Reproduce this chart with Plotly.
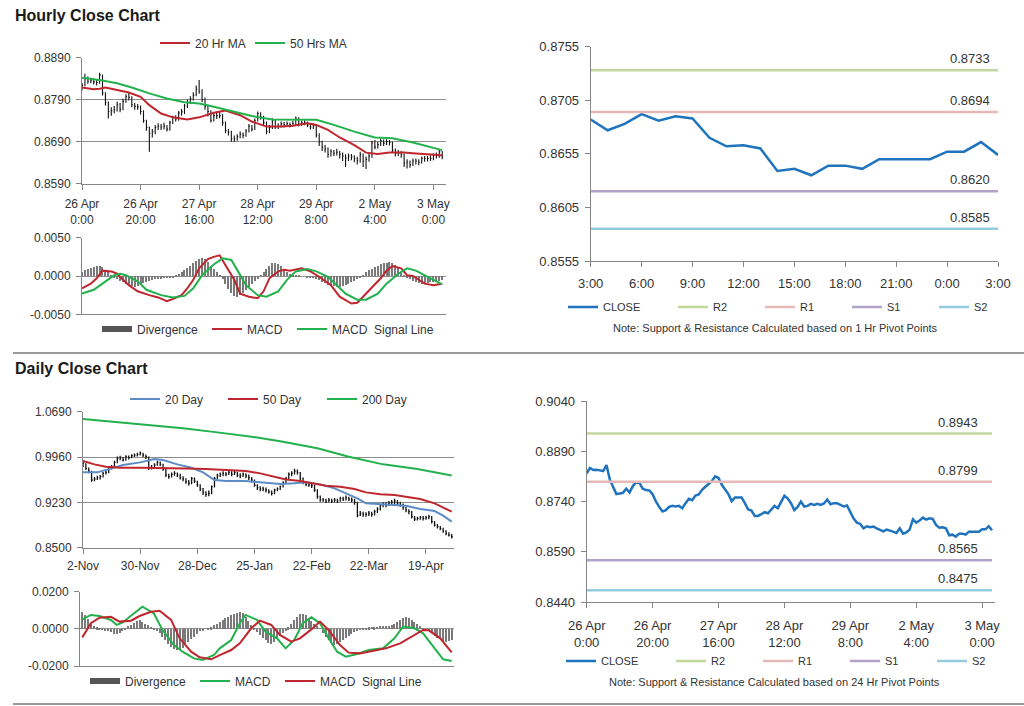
import plotly.graph_objects as go

# ------------------------------------------------------------------ data
hourly_tick_pos = [0, 20, 40, 60, 80, 100, 120]
hourly_tick_text = ["26 Apr<br>0:00", "26 Apr<br>20:00", "27 Apr<br>16:00", "28 Apr<br>12:00",
                    "29 Apr<br>8:00", "2 May<br>4:00", "3 May<br>0:00"]

hourly_close = [
    0.8824, 0.8840, 0.8834, 0.8835, 0.8833, 0.8831, 0.8849, 0.8806, 0.8784, 0.8762,
    0.8764, 0.8766, 0.8778, 0.8767, 0.8786, 0.8797, 0.8796, 0.8778, 0.8774, 0.8773,
    0.8762, 0.8740, 0.8724, 0.8710, 0.8714, 0.8724, 0.8727, 0.8725, 0.8727, 0.8720,
    0.8735, 0.8748, 0.8744, 0.8758, 0.8761, 0.8775, 0.8784, 0.8792, 0.8801, 0.8815,
    0.8810, 0.8790, 0.8774, 0.8762, 0.8741, 0.8752, 0.8752, 0.8752, 0.8735, 0.8716,
    0.8713, 0.8697, 0.8697, 0.8702, 0.8708, 0.8705, 0.8715, 0.8727, 0.8720, 0.8740,
    0.8757, 0.8749, 0.8735, 0.8714, 0.8724, 0.8740, 0.8725, 0.8727, 0.8733, 0.8730,
    0.8733, 0.8730, 0.8734, 0.8746, 0.8732, 0.8735, 0.8735, 0.8730, 0.8725, 0.8728,
    0.8706, 0.8689, 0.8677, 0.8673, 0.8660, 0.8666, 0.8663, 0.8665, 0.8660, 0.8656,
    0.8651, 0.8656, 0.8654, 0.8650, 0.8646, 0.8660, 0.8644, 0.8648, 0.8656, 0.8687,
    0.8677, 0.8683, 0.8692, 0.8686, 0.8690, 0.8688, 0.8670, 0.8662, 0.8663, 0.8660,
    0.8639, 0.8641, 0.8635, 0.8644, 0.8644, 0.8641, 0.8650, 0.8650, 0.8650, 0.8650,
    0.8657, 0.8657, 0.8666, 0.8654]
hourly_high = [
    0.8830, 0.8852, 0.8845, 0.8842, 0.8840, 0.8838, 0.8854, 0.8850, 0.8808, 0.8786,
    0.8772, 0.8775, 0.8785, 0.8782, 0.8792, 0.8803, 0.8806, 0.8798, 0.8782, 0.8780,
    0.8776, 0.8765, 0.8742, 0.8726, 0.8720, 0.8730, 0.8734, 0.8732, 0.8735, 0.8730,
    0.8740, 0.8752, 0.8753, 0.8763, 0.8768, 0.8780, 0.8790, 0.8798, 0.8808, 0.8824,
    0.8837, 0.8815, 0.8795, 0.8778, 0.8765, 0.8758, 0.8760, 0.8762, 0.8756, 0.8738,
    0.8720, 0.8716, 0.8705, 0.8708, 0.8714, 0.8712, 0.8720, 0.8732, 0.8730, 0.8745,
    0.8762, 0.8760, 0.8752, 0.8738, 0.8730, 0.8746, 0.8742, 0.8734, 0.8738, 0.8737,
    0.8738, 0.8736, 0.8740, 0.8750, 0.8748, 0.8740, 0.8741, 0.8738, 0.8733, 0.8734,
    0.8730, 0.8710, 0.8692, 0.8682, 0.8676, 0.8672, 0.8670, 0.8673, 0.8668, 0.8664,
    0.8660, 0.8662, 0.8661, 0.8658, 0.8654, 0.8666, 0.8662, 0.8655, 0.8662, 0.8692,
    0.8694, 0.8690, 0.8697, 0.8695, 0.8696, 0.8694, 0.8690, 0.8674, 0.8670, 0.8668,
    0.8662, 0.8648, 0.8645, 0.8650, 0.8650, 0.8648, 0.8655, 0.8656, 0.8656, 0.8657,
    0.8662, 0.8664, 0.8670, 0.8668]
hourly_low = [
    0.8812, 0.8822, 0.8828, 0.8829, 0.8826, 0.8824, 0.8828, 0.8800, 0.8776, 0.8745,
    0.8752, 0.8758, 0.8762, 0.8760, 0.8765, 0.8783, 0.8788, 0.8772, 0.8766, 0.8766,
    0.8755, 0.8735, 0.8716, 0.8666, 0.8700, 0.8708, 0.8718, 0.8718, 0.8719, 0.8714,
    0.8716, 0.8732, 0.8738, 0.8740, 0.8752, 0.8756, 0.8770, 0.8780, 0.8788, 0.8798,
    0.8804, 0.8784, 0.8766, 0.8750, 0.8736, 0.8738, 0.8744, 0.8746, 0.8728, 0.8710,
    0.8705, 0.8690, 0.8690, 0.8692, 0.8698, 0.8698, 0.8702, 0.8712, 0.8714, 0.8718,
    0.8738, 0.8742, 0.8728, 0.8708, 0.8710, 0.8720, 0.8720, 0.8720, 0.8724, 0.8724,
    0.8725, 0.8724, 0.8726, 0.8730, 0.8726, 0.8728, 0.8729, 0.8725, 0.8719, 0.8720,
    0.8700, 0.8680, 0.8668, 0.8664, 0.8652, 0.8655, 0.8656, 0.8657, 0.8650, 0.8644,
    0.8630, 0.8644, 0.8646, 0.8641, 0.8636, 0.8640, 0.8630, 0.8625, 0.8642, 0.8652,
    0.8672, 0.8674, 0.8680, 0.8680, 0.8682, 0.8681, 0.8664, 0.8655, 0.8656, 0.8652,
    0.8630, 0.8626, 0.8628, 0.8632, 0.8636, 0.8634, 0.8638, 0.8642, 0.8643, 0.8644,
    0.8646, 0.8650, 0.8652, 0.8648]

ma20_hr_x = [0, 4, 6, 8, 12, 16, 20, 23, 27, 31, 36, 40, 45, 49, 54, 58, 63, 68, 72, 77,
             80, 84, 88, 93, 97, 101, 105, 110, 114, 120, 123]
ma20_hr = [0.8819, 0.8815, 0.8816, 0.8819, 0.8813, 0.8807, 0.8797, 0.8777, 0.8757, 0.8748,
           0.8743, 0.8748, 0.8759, 0.8764, 0.8753, 0.8738, 0.8726, 0.8726, 0.8728, 0.8734,
           0.8730, 0.8718, 0.8700, 0.8682, 0.8664, 0.8661, 0.8664, 0.8664, 0.8662, 0.8660, 0.8658]
ma50_hr_x = [0, 6, 12, 17, 23, 29, 35, 40, 45, 52, 58, 65, 72, 80, 86, 93, 100, 106, 113, 120, 123]
ma50_hr = [0.8842, 0.8837, 0.8829, 0.8819, 0.8805, 0.8793, 0.8784, 0.8781, 0.8773, 0.8761,
           0.8751, 0.8743, 0.8742, 0.8742, 0.8730, 0.8714, 0.8700, 0.8698, 0.8688, 0.8676, 0.8670]

hourly_div = [
    0.0006, 0.0008, 0.0010, 0.0011, 0.0012, 0.0013, 0.0014, 0.0012,
    0.0008, 0.0005, 0.0002, -0.0001,
    -0.0004, -0.0006, -0.0008, -0.0010, -0.0012, -0.0013, -0.0014, -0.0013, -0.0011, -0.0009,
    -0.0008, -0.0006, -0.0005, -0.0004,
    -0.0003, -0.0003, -0.0002, -0.0002, -0.0001, -0.0001, 0.0001,
    0.0003, 0.0005, 0.0008, 0.0011, 0.0014, 0.0017, 0.0020, 0.0022, 0.0024, 0.0023, 0.0019,
    0.0014, 0.0010, 0.0006, 0.0002,
    -0.0004, -0.0010, -0.0016, -0.0022, -0.0026, -0.0027, -0.0025, -0.0022, -0.0018, -0.0014,
    -0.0010, -0.0006,
    -0.0003, 0.0001,
    0.0005, 0.0010, 0.0014, 0.0017, 0.0018, 0.0016, 0.0013, 0.0009, 0.0005,
    0.0003, 0.0002, 0.0001, 0.0001, 0.0000, 0.0000, -0.0001, -0.0001, -0.0002, -0.0003,
    -0.0005, -0.0007, -0.0009, -0.0011, -0.0012, -0.0013, -0.0014, -0.0014, -0.0013, -0.0012,
    -0.0010, -0.0008, -0.0006, -0.0004,
    -0.0001, 0.0002, 0.0005, 0.0008, 0.0010, 0.0012, 0.0014, 0.0016, 0.0017, 0.0018,
    0.0019, 0.0018, 0.0015, 0.0011, 0.0006,
    0.0002, -0.0002, -0.0004, -0.0006, -0.0008, -0.0009, -0.0010, -0.0010, -0.0009, -0.0008,
    -0.0007, -0.0006, -0.0006, -0.0005]
hourly_macd_x = [0, 3, 5, 7, 10, 12, 14, 16, 19, 21, 23, 26, 29, 31, 34, 36, 38, 40, 43, 45,
                 47, 49, 52, 54, 57, 60, 62, 64, 67, 69, 71, 75, 78, 81, 85, 88, 92, 94, 96, 98,
                 102, 104, 106, 109, 111, 113, 117, 120, 123]
hourly_macd = [-0.0016, -0.0010, -0.0003, 0.0007, 0.0006, 0.0003, -0.0005, -0.0012, -0.0020, -0.0023,
               -0.0025, -0.0028, -0.0033, -0.0030, -0.0025, -0.0016, -0.0005, 0.0010, 0.0022, 0.0025,
               0.0027, 0.0014, -0.0005, -0.0023, -0.0027, -0.0029, -0.0020, -0.0003, 0.0006, 0.0008,
               0.0007, 0.0010, 0.0006, -0.0001, -0.0012, -0.0027, -0.0036, -0.0035, -0.0027, -0.0018,
               -0.0003, 0.0007, 0.0013, 0.0010, 0.0001, 0.0000, -0.0010, -0.0012, -0.0010]
hourly_signal_x = [0, 4, 7, 11, 13, 15, 19, 22, 27, 31, 35, 38, 41, 45, 48, 51, 53, 56, 60, 63,
                   67, 70, 73, 77, 80, 84, 87, 90, 94, 97, 101, 104, 108, 111, 114, 118, 121, 123]
hourly_signal = [-0.0023, -0.0018, -0.0010, 0.0001, 0.0003, 0.0001, -0.0007, -0.0018, -0.0025, -0.0028,
                 -0.0026, -0.0016, 0.0001, 0.0015, 0.0023, 0.0021, 0.0008, -0.0012, -0.0025, -0.0027,
                 -0.0020, -0.0005, 0.0006, 0.0009, 0.0006, -0.0001, -0.0012, -0.0023, -0.0031, -0.0031,
                 -0.0023, -0.0010, 0.0003, 0.0010, 0.0007, -0.0001, -0.0007, -0.0011]

pivot_hours = ["3:00", "6:00", "9:00", "12:00", "15:00", "18:00", "21:00", "0:00", "3:00"]
pivot_close = hourly_close[99:]          # last 24 hours of the hourly series
hr_levels = {"R2": 0.8733, "R1": 0.8694, "S1": 0.8620, "S2": 0.8585}
day_levels = {"R2": 0.8943, "R1": 0.8799, "S1": 0.8565, "S2": 0.8475}

daily_tick_pos = [0, 20, 40, 60, 80, 100, 120]
daily_tick_text = ["2-Nov", "30-Nov", "28-Dec", "25-Jan", "22-Feb", "22-Mar", "19-Apr"]
daily_close = [
    0.9858, 0.9777, 0.9735, 0.9590, 0.9606, 0.9627, 0.9643, 0.9697, 0.9713, 0.9777,
    0.9804, 0.9874, 0.9939, 0.9949, 0.9912, 0.9965, 0.9949, 0.9981, 0.9992, 1.0003,
    1.0019, 0.9992, 0.9965, 0.9777, 0.9788, 0.9831, 0.9874, 0.9842, 0.9767, 0.9670,
    0.9643, 0.9681, 0.9697, 0.9670, 0.9627, 0.9606, 0.9563, 0.9536, 0.9616, 0.9573,
    0.9509, 0.9445, 0.9391, 0.9359, 0.9375, 0.9482, 0.9616, 0.9659, 0.9681, 0.9697,
    0.9681, 0.9713, 0.9681, 0.9713, 0.9670, 0.9659, 0.9681, 0.9659, 0.9627, 0.9590,
    0.9509, 0.9466, 0.9445, 0.9445, 0.9429, 0.9402, 0.9375, 0.9429, 0.9445, 0.9482,
    0.9552, 0.9616, 0.9681, 0.9697, 0.9735, 0.9713, 0.9616, 0.9552, 0.9520, 0.9509,
    0.9498, 0.9429, 0.9321, 0.9268, 0.9268, 0.9251, 0.9268, 0.9251, 0.9268, 0.9251,
    0.9294, 0.9283, 0.9305, 0.9283, 0.9268, 0.9230, 0.9026, 0.9053, 0.9037, 0.9037,
    0.9053, 0.9037, 0.9080, 0.9123, 0.9176, 0.9198, 0.9187, 0.9214, 0.9230, 0.9251,
    0.9214, 0.9198, 0.9144, 0.9107, 0.9080, 0.8999, 0.8962, 0.8972, 0.8983, 0.8972,
    0.8983, 0.8999, 0.8919, 0.8865, 0.8838, 0.8811, 0.8768, 0.8731, 0.8704, 0.8677]
daily_high = [
    0.9900, 0.9860, 0.9790, 0.9740, 0.9640, 0.9660, 0.9670, 0.9720, 0.9740, 0.9800,
    0.9830, 0.9900, 0.9970, 0.9980, 0.9960, 0.9990, 0.9985, 1.0005, 1.0015, 1.0030,
    1.0050, 1.0030, 1.0000, 0.9970, 0.9830, 0.9860, 0.9900, 0.9890, 0.9850, 0.9780,
    0.9690, 0.9710, 0.9730, 0.9710, 0.9690, 0.9650, 0.9620, 0.9590, 0.9640, 0.9630,
    0.9580, 0.9520, 0.9460, 0.9410, 0.9420, 0.9500, 0.9640, 0.9690, 0.9710, 0.9730,
    0.9720, 0.9750, 0.9730, 0.9740, 0.9720, 0.9700, 0.9710, 0.9700, 0.9680, 0.9640,
    0.9600, 0.9520, 0.9490, 0.9480, 0.9470, 0.9440, 0.9420, 0.9450, 0.9470, 0.9500,
    0.9570, 0.9640, 0.9710, 0.9730, 0.9770, 0.9760, 0.9720, 0.9630, 0.9570, 0.9550,
    0.9540, 0.9510, 0.9440, 0.9340, 0.9300, 0.9290, 0.9300, 0.9290, 0.9300, 0.9290,
    0.9320, 0.9320, 0.9340, 0.9320, 0.9310, 0.9290, 0.9240, 0.9090, 0.9080, 0.9070,
    0.9090, 0.9080, 0.9110, 0.9150, 0.9200, 0.9230, 0.9230, 0.9250, 0.9270, 0.9290,
    0.9270, 0.9240, 0.9210, 0.9160, 0.9120, 0.9090, 0.9010, 0.9000, 0.9010, 0.9010,
    0.9010, 0.9030, 0.9010, 0.8930, 0.8880, 0.8850, 0.8820, 0.8780, 0.8750, 0.8720]
daily_low = [
    0.9800, 0.9750, 0.9700, 0.9560, 0.9570, 0.9590, 0.9600, 0.9630, 0.9680, 0.9700,
    0.9760, 0.9790, 0.9860, 0.9910, 0.9890, 0.9900, 0.9920, 0.9940, 0.9960, 0.9970,
    0.9985, 0.9960, 0.9930, 0.9750, 0.9760, 0.9780, 0.9820, 0.9810, 0.9740, 0.9640,
    0.9610, 0.9630, 0.9660, 0.9640, 0.9600, 0.9570, 0.9530, 0.9500, 0.9520, 0.9540,
    0.9480, 0.9410, 0.9350, 0.9320, 0.9330, 0.9360, 0.9470, 0.9600, 0.9640, 0.9650,
    0.9650, 0.9670, 0.9650, 0.9670, 0.9640, 0.9620, 0.9640, 0.9620, 0.9590, 0.9550,
    0.9480, 0.9430, 0.9410, 0.9410, 0.9390, 0.9370, 0.9340, 0.9360, 0.9410, 0.9430,
    0.9470, 0.9540, 0.9600, 0.9650, 0.9680, 0.9680, 0.9590, 0.9520, 0.9490, 0.9480,
    0.9460, 0.9400, 0.9290, 0.9240, 0.9240, 0.9220, 0.9230, 0.9220, 0.9230, 0.9220,
    0.9240, 0.9250, 0.9260, 0.9250, 0.9230, 0.9190, 0.8990, 0.9010, 0.9000, 0.9000,
    0.9010, 0.9000, 0.9020, 0.9060, 0.9100, 0.9150, 0.9150, 0.9170, 0.9190, 0.9200,
    0.9180, 0.9160, 0.9110, 0.9070, 0.9040, 0.8970, 0.8930, 0.8940, 0.8950, 0.8940,
    0.8950, 0.8960, 0.8890, 0.8840, 0.8810, 0.8780, 0.8740, 0.8700, 0.8680, 0.8650]

ma20_day_x = [0, 5, 10, 14, 20, 25, 28, 33, 38, 42, 46, 50, 57, 64, 69, 74, 78, 83, 88, 92,
              96, 99, 104, 109, 113, 118, 123, 126, 129]
ma20_day = [0.9713, 0.9713, 0.9777, 0.9831, 0.9874, 0.9928, 0.9912, 0.9842, 0.9788, 0.9713,
            0.9590, 0.9574, 0.9574, 0.9552, 0.9525, 0.9536, 0.9552, 0.9520, 0.9455, 0.9375,
            0.9294, 0.9214, 0.9198, 0.9187, 0.9176, 0.9123, 0.9090, 0.9015, 0.8920]
ma50_day_x = [0, 4, 8, 13, 20, 29, 36, 43, 50, 57, 62, 67, 71, 76, 81, 85, 90, 95, 99, 104,
              109, 113, 118, 123, 126, 129]
ma50_day = [0.9896, 0.9842, 0.9804, 0.9788, 0.9788, 0.9788, 0.9777, 0.9767, 0.9751, 0.9735,
            0.9697, 0.9643, 0.9600, 0.9574, 0.9536, 0.9498, 0.9482, 0.9445, 0.9391, 0.9359,
            0.9348, 0.9321, 0.9284, 0.9214, 0.9144, 0.9080]
ma200_day_x = [0, 12, 24, 35, 47, 59, 70, 82, 93, 105, 117, 129]
ma200_day = [1.0572, 1.0518, 1.0475, 1.0422, 1.0357, 1.0287, 1.0207, 1.0100, 0.9965, 0.9842,
             0.9767, 0.9662]

daily_div = [
    0.0090, 0.0075, 0.0055, 0.0030,
    0.0015, 0.0010, 0.0005, 0.0002, -0.0005,
    -0.0012, -0.0018, -0.0025, -0.0028, -0.0022, -0.0010,
    0.0005, 0.0015, 0.0025, 0.0035, 0.0042, 0.0048,
    0.0040, 0.0030, 0.0020, 0.0012, 0.0005, -0.0005,
    -0.0020, -0.0040, -0.0060, -0.0080, -0.0095, -0.0105, -0.0114, -0.0110, -0.0100,
    -0.0085, -0.0070, -0.0055, -0.0040, -0.0025, -0.0012,
    -0.0005, 0.0000, 0.0005, 0.0010, 0.0020,
    0.0030, 0.0040, 0.0050, 0.0060, 0.0068, 0.0075, 0.0082, 0.0088, 0.0092, 0.0085,
    0.0065, 0.0045, 0.0025, 0.0005,
    -0.0015, -0.0030, -0.0045, -0.0060, -0.0072, -0.0078, -0.0070, -0.0055, -0.0035,
    -0.0020, -0.0005, 0.0010,
    0.0030, 0.0050, 0.0068, 0.0080, 0.0083, 0.0075, 0.0060,
    0.0045, 0.0030, 0.0015, 0.0000,
    -0.0020, -0.0040, -0.0060, -0.0075, -0.0087, -0.0082, -0.0070, -0.0058, -0.0045,
    -0.0035, -0.0025, -0.0015, -0.0008, -0.0002,
    0.0005, 0.0008, 0.0010, 0.0012, 0.0010, 0.0012, 0.0015, 0.0018, 0.0015, 0.0018, 0.0022,
    0.0030, 0.0040, 0.0050, 0.0058, 0.0065, 0.0060, 0.0050, 0.0038,
    0.0028, 0.0018, 0.0008, 0.0000,
    -0.0010, -0.0022, -0.0035, -0.0045, -0.0055, -0.0062, -0.0068, -0.0065, -0.0060]
daily_macd_x = [0, 3, 6, 10, 12, 14, 18, 21, 25, 28, 32, 35, 39, 42, 46, 48, 52, 55, 57, 61,
                64, 68, 71, 74, 77, 80, 83, 86, 89, 92, 96, 100, 105, 109, 112, 116, 119, 123, 126, 129]
daily_macd = [0.0051, 0.0075, 0.0069, 0.0048, 0.0021, 0.0033, 0.0083, 0.0119, 0.0083, -0.0006,
              -0.0087, -0.0123, -0.0159, -0.0168, -0.0141, -0.0105, -0.0060, 0.0030, 0.0075, 0.0048,
              -0.0015, -0.0051, -0.0105, -0.0060, 0.0030, 0.0062, 0.0030, -0.0051, -0.0123, -0.0150,
              -0.0135, -0.0114, -0.0105, -0.0051, 0.0012, 0.0003, -0.0024, -0.0105, -0.0164, -0.0173]
daily_signal_x = [0, 3, 6, 10, 13, 17, 20, 24, 27, 31, 34, 38, 41, 45, 48, 52, 55, 59, 62, 66,
                  69, 73, 76, 80, 83, 86, 90, 93, 97, 102, 106, 111, 116, 119, 121, 125, 129]
daily_signal = [-0.0046, 0.0030, 0.0060, 0.0065, 0.0039, 0.0044, 0.0069, 0.0092, 0.0097, 0.0048,
                -0.0051, -0.0123, -0.0153, -0.0164, -0.0141, -0.0114, -0.0078, 0.0003, 0.0044, 0.0021,
                -0.0033, -0.0069, -0.0051, -0.0003, 0.0039, -0.0006, -0.0087, -0.0128, -0.0132, -0.0118,
                -0.0105, -0.0078, -0.0033, -0.0006, -0.0008, -0.0051, -0.0127]

# ------------------------------------------------------------------ style
FONT = "Liberation Sans, Arial, Helvetica, sans-serif"
W, H = 1024, 706
AXC = "#868686"
GRID = "#8f8f8f"
TXT = "#333333"
RED = "#c0262d"
GREEN = "#22b14c"
BLUE20 = "#5b8cc6"
CLOSE_C = "#1f74bd"
LEVEL_C = {"R2": "#c3d69b", "R1": "#e6b9b8", "S1": "#b3a2c7", "S2": "#93cddd"}
LEVEL_W = {"R2": 42, "R1": 42, "S1": 42, "S2": 30}


def dx(a, b):
    return [a / W, b / W]


def dy(top, bottom):
    return [1 - bottom / H, 1 - top / H]


def hlc(lo, hi, cl, tick):
    xs, ys = [], []
    for i, (l, h, c) in enumerate(zip(lo, hi, cl)):
        xs += [i, i, None, i, i + tick, None]
        ys += [l, h, None, c, c, None]
    return xs, ys


fig = go.Figure()

# ---- hourly price (top-left)
xs, ys = hlc(hourly_low, hourly_high, hourly_close, 0.35)
fig.add_trace(go.Scatter(x=xs, y=ys, mode="lines", line=dict(color="#111111", width=1.1),
                         showlegend=False, hoverinfo="skip", xaxis="x", yaxis="y"))
fig.add_trace(go.Scatter(x=ma20_hr_x, y=ma20_hr, mode="lines", name="20 Hr MA",
                         line=dict(color=RED, width=2), xaxis="x", yaxis="y",
                         legend="legend", legendwidth=50))
fig.add_trace(go.Scatter(x=ma50_hr_x, y=ma50_hr, mode="lines", name="50 Hrs MA",
                         line=dict(color=GREEN, width=2), xaxis="x", yaxis="y",
                         legend="legend", legendwidth=56))

# ---- hourly MACD
fig.add_trace(go.Bar(x=list(range(len(hourly_div))), y=hourly_div, width=0.35,
                     marker=dict(color="#7a7a7a", line=dict(width=0)), showlegend=False,
                     xaxis="x2", yaxis="y2"))
fig.add_trace(go.Scatter(x=[None], y=[None], mode="lines", name="Divergence",
                         line=dict(color="#555555", width=6), xaxis="x2", yaxis="y2",
                         legend="legend2", legendwidth=65))
fig.add_trace(go.Scatter(x=hourly_macd_x, y=hourly_macd, mode="lines", name="MACD",
                         line=dict(color=RED, width=2), xaxis="x2", yaxis="y2",
                         legend="legend2", legendwidth=40))
fig.add_trace(go.Scatter(x=hourly_signal_x, y=hourly_signal, mode="lines", name="MACD  Signal Line",
                         line=dict(color=GREEN, width=2), xaxis="x2", yaxis="y2",
                         legend="legend2", legendwidth=98))

# ---- 1 hr pivot chart (top-right)
fig.add_trace(go.Scatter(x=list(range(len(pivot_close))), y=pivot_close, mode="lines", name="CLOSE",
                         line=dict(color=CLOSE_C, width=2.5), xaxis="x3", yaxis="y3",
                         legend="legend3", legendwidth=65))
for k, v in hr_levels.items():
    fig.add_trace(go.Scatter(x=[0, len(pivot_close) - 1], y=[v, v], mode="lines", name=k,
                             line=dict(color=LEVEL_C[k], width=2.5), xaxis="x3", yaxis="y3",
                             legend="legend3", legendwidth=LEVEL_W[k]))

# ---- daily price
xs, ys = hlc(daily_low, daily_high, daily_close, 0.35)
fig.add_trace(go.Scatter(x=xs, y=ys, mode="lines", line=dict(color="#111111", width=1.3),
                         showlegend=False, hoverinfo="skip", xaxis="x4", yaxis="y4"))
fig.add_trace(go.Scatter(x=ma20_day_x, y=ma20_day, mode="lines", name="20 Day",
                         line=dict(color=BLUE20, width=2), xaxis="x4", yaxis="y4",
                         legend="legend4", legendwidth=53))
fig.add_trace(go.Scatter(x=ma50_day_x, y=ma50_day, mode="lines", name="50 Day",
                         line=dict(color=RED, width=2), xaxis="x4", yaxis="y4",
                         legend="legend4", legendwidth=54))
fig.add_trace(go.Scatter(x=ma200_day_x, y=ma200_day, mode="lines", name="200 Day",
                         line=dict(color=GREEN, width=2), xaxis="x4", yaxis="y4",
                         legend="legend4", legendwidth=45))

# ---- daily MACD
fig.add_trace(go.Bar(x=list(range(len(daily_div))), y=daily_div, width=0.35,
                     marker=dict(color="#7a7a7a", line=dict(width=0)), showlegend=False,
                     xaxis="x5", yaxis="y5"))
fig.add_trace(go.Scatter(x=[None], y=[None], mode="lines", name="Divergence",
                         line=dict(color="#555555", width=6), xaxis="x5", yaxis="y5",
                         legend="legend5", legendwidth=65))
fig.add_trace(go.Scatter(x=daily_macd_x, y=daily_macd, mode="lines", name="MACD",
                         line=dict(color=GREEN, width=2), xaxis="x5", yaxis="y5",
                         legend="legend5", legendwidth=40))
fig.add_trace(go.Scatter(x=daily_signal_x, y=daily_signal, mode="lines", name="MACD  Signal Line",
                         line=dict(color=RED, width=2), xaxis="x5", yaxis="y5",
                         legend="legend5", legendwidth=98))

# ---- 24 hr pivot chart (bottom-right)
fig.add_trace(go.Scatter(x=list(range(len(hourly_close))), y=hourly_close, mode="lines", name="CLOSE",
                         line=dict(color=CLOSE_C, width=2.5), xaxis="x6", yaxis="y6",
                         legend="legend6", legendwidth=65))
for k, v in day_levels.items():
    fig.add_trace(go.Scatter(x=[0, len(hourly_close) - 1], y=[v, v], mode="lines", name=k,
                             line=dict(color=LEVEL_C[k], width=2.5), xaxis="x6", yaxis="y6",
                             legend="legend6", legendwidth=LEVEL_W[k]))


# ------------------------------------------------------------------ axes
def xax(domain, rng, anchor, tickvals=None, ticktext=None, size=12, standoff=3):
    d = dict(domain=domain, range=rng, anchor=anchor, showline=True, linecolor=AXC, linewidth=1,
             showgrid=False, zeroline=False, fixedrange=True,
             tickfont=dict(family=FONT, size=size, color=TXT))
    if tickvals is not None:
        d.update(tickmode="array", tickvals=tickvals, ticktext=ticktext, ticks="outside",
                 ticklen=5, tickcolor=AXC, ticklabelstandoff=standoff, showticklabels=True)
    else:
        d.update(ticks="", showticklabels=False)
    return d


def yax(domain, ticks, anchor, size=12, grid=True):
    return dict(domain=domain, range=[ticks[0], ticks[-1]], anchor=anchor, showline=True,
                linecolor=AXC, linewidth=1, ticks="outside", ticklen=5, tickcolor=AXC,
                tickmode="array", tickvals=ticks, ticktext=[f"{t:.4f}" for t in ticks],
                tickfont=dict(family=FONT, size=size, color=TXT), showgrid=grid,
                gridcolor=GRID, gridwidth=1, zeroline=False, fixedrange=True,
                ticklabelstandoff=3)


hr_n = len(hourly_close)

fig.update_layout(
    xaxis=xax(dx(82, 446), [0, 124.3], "y", hourly_tick_pos, hourly_tick_text, 12, standoff=4),
    yaxis=yax(dy(57.7, 183.7), [0.8590, 0.8690, 0.8790, 0.8890], "x"),
    xaxis2=xax(dx(82, 446), [0, 124.3], "y2"),
    yaxis2=yax(dy(237.7, 314.3), [-0.0050, 0.0000, 0.0050], "x2"),
    xaxis3=xax(dx(590.7, 998), [0, 24], "y3", list(range(0, 25, 3)), pivot_hours, 13, standoff=5),
    yaxis3=yax(dy(46.7, 261), [0.8555, 0.8605, 0.8655, 0.8705, 0.8755], "x3", 13, grid=False),
    xaxis4=xax(dx(83, 454), [0, 129.8], "y4", daily_tick_pos, daily_tick_text, 12, standoff=2),
    yaxis4=yax(dy(411.7, 547.7), [0.8500, 0.9230, 0.9960, 1.0690], "x4"),
    xaxis5=xax(dx(80, 454), [-0.8, 129.8], "y5"),
    yaxis5=yax(dy(591.7, 666), [-0.0200, 0.0000, 0.0200], "x5"),
    xaxis6=xax(dx(586.7, 995), [0, 123.9], "y6", hourly_tick_pos, hourly_tick_text, 13, standoff=6),
    yaxis6=yax(dy(401, 602), [0.8440, 0.8590, 0.8740, 0.8890, 0.9040], "x6", 13, grid=False),
)


def leg(xpx, ypx, size):
    return dict(x=xpx / W, y=1 - ypx / H, xanchor="left", yanchor="middle", orientation="h",
                font=dict(family=FONT, size=size, color=TXT), bgcolor="rgba(0,0,0,0)",
                itemwidth=30, traceorder="normal", tracegroupgap=0, borderwidth=0)


fig.update_layout(
    legend=leg(155, 43, 12),
    legend2=leg(97, 329, 12),
    legend3=leg(563, 307, 11),
    legend4=leg(125, 399, 12),
    legend5=leg(85, 681, 12),
    legend6=leg(561, 661, 11),
)

ann = [
    dict(text="<b>Hourly Close Chart</b>", x=13 / W, y=1 - 16 / H, xref="paper", yref="paper",
         xanchor="left", yanchor="middle", showarrow=False,
         font=dict(family=FONT, size=16, color="#1a1a1a")),
    dict(text="<b>Daily Close Chart</b>", x=13 / W, y=1 - 369 / H, xref="paper", yref="paper",
         xanchor="left", yanchor="middle", showarrow=False,
         font=dict(family=FONT, size=16, color="#1a1a1a")),
    dict(text="Note: Support & Resistance Calculated based on 1 Hr Pivot Points",
         x=775 / W, y=1 - 328 / H, xref="paper", yref="paper", xanchor="center", yanchor="middle",
         showarrow=False, font=dict(family=FONT, size=11, color=TXT)),
    dict(text="Note: Support & Resistance Calculated based on 24 Hr Pivot Points",
         x=774 / W, y=1 - 682 / H, xref="paper", yref="paper", xanchor="center", yanchor="middle",
         showarrow=False, font=dict(family=FONT, size=11, color=TXT)),
]
for k, v in hr_levels.items():
    ann.append(dict(text=f"{v:.4f}", x=len(pivot_close) - 1, y=v, xref="x3", yref="y3",
                    xanchor="right", yanchor="bottom", xshift=-6, yshift=2, showarrow=False,
                    font=dict(family=FONT, size=13, color=TXT)))
for k, v in day_levels.items():
    ann.append(dict(text=f"{v:.4f}", x=hr_n - 1, y=v, xref="x6", yref="y6",
                    xanchor="right", yanchor="bottom", xshift=-12, yshift=2, showarrow=False,
                    font=dict(family=FONT, size=13, color=TXT)))

shapes = [
    dict(type="line", xref="paper", yref="paper", x0=13 / W, x1=1, y0=1 - 353 / H, y1=1 - 353 / H,
         line=dict(color="#9a9a9a", width=2)),
    dict(type="line", xref="paper", yref="paper", x0=13 / W, x1=1, y0=1 - 704 / H, y1=1 - 704 / H,
         line=dict(color="#9a9a9a", width=2)),
]

fig.update_layout(
    width=W, height=H, autosize=False,
    margin=dict(l=0, r=0, t=0, b=0, pad=0, autoexpand=False),
    paper_bgcolor="white", plot_bgcolor="white",
    font=dict(family=FONT, size=12, color=TXT),
    annotations=ann, shapes=shapes,
    bargap=0, hovermode=False,
)

fig.write_html("out.html", config={"displayModeBar": False},
               post_script="document.body.style.margin='0px';document.body.style.padding='0px';")
